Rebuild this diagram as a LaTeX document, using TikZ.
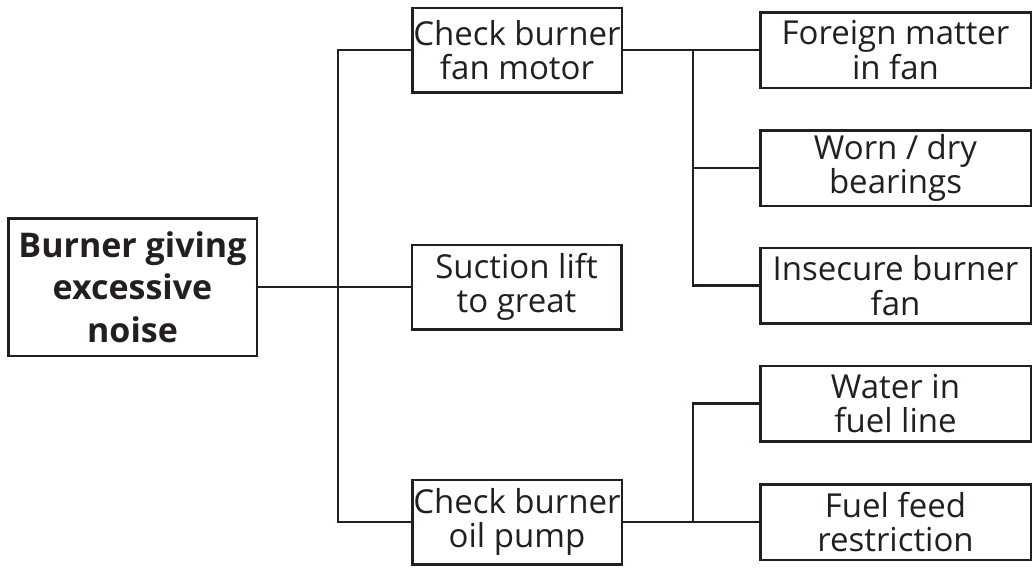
\documentclass[tikz,border=0pt]{standalone}
\usepackage{fontspec}
\setmainfont{Open Sans}
\definecolor{ink}{HTML}{231F20}
\begin{document}
\begin{tikzpicture}[x=1pt,y=-1pt,
  box/.style={draw=ink, line width=2.5pt, inner sep=0pt, align=center, text=ink,
    font=\fontsize{33}{34.5}\selectfont},
  midbox/.style={box, minimum width=209.5pt, minimum height=84.5pt},
  leafbox/.style={box, minimum width=270.5pt, minimum height=75.5pt},
  link/.style={draw=ink, line width=2.5pt}]
\useasboundingbox (0,0) rectangle (1033,574);
\node[box, minimum width=248.5pt, minimum height=137.5pt,
  font=\fontsize{34}{42.5}\selectfont\bfseries] (root) at (132.5,287)
  {Burner giving\\excessive\\noise};
\node[midbox] (fan) at (517,50) {Check burner\\fan motor};
\node[midbox] (suction) at (516.5,287) {Suction lift\\to great};
\node[midbox] (oil) at (517,522) {Check burner\\oil pump};
\node[leafbox] (foreign) at (895.5,50) {Foreign matter\\in fan};
\node[leafbox] (worn) at (895.5,168) {Worn / dry\\bearings};
\node[leafbox] (insecure) at (895.5,285.5) {Insecure burner\\fan};
\node[leafbox] (water) at (895.5,403.5) {Water in\\fuel line};
\node[leafbox] (feed) at (895.5,522) {Fuel feed\\restriction};
\coordinate (sp1) at (338,0);
\coordinate (sp2) at (693,0);
\draw[link] (root.east) -- (suction.west);
\draw[link] (fan.west) -- (fan.west -| sp1) -- (oil.west -| sp1) -- (oil.west);
\draw[link] (fan.east) -- (foreign.west);
\draw[link] (sp2 |- fan.east) -- (sp2 |- insecure.west) -- (insecure.west);
\draw[link] (sp2 |- worn.west) -- (worn.west);
\draw[link] (oil.east) -- (feed.west);
\draw[link] (sp2 |- oil.east) -- (sp2 |- water.west) -- (water.west);
\end{tikzpicture}
\end{document}
